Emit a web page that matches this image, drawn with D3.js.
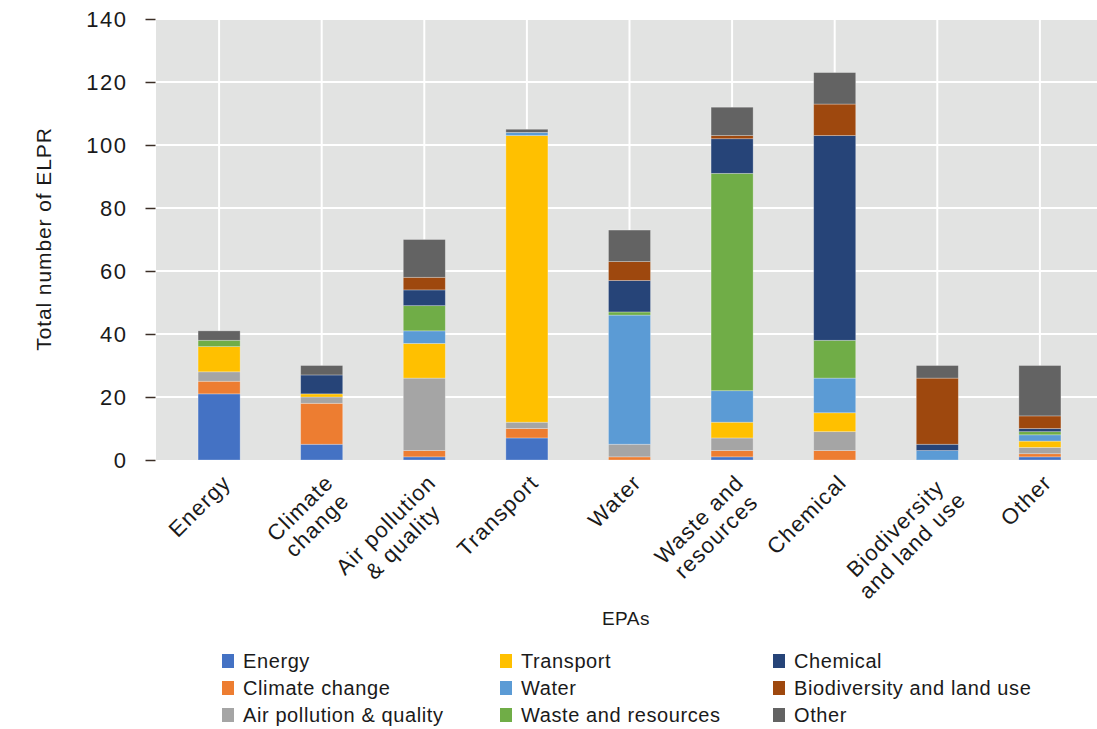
<!DOCTYPE html>
<html>
<head>
<meta charset="utf-8">
<script src="https://cdn.jsdelivr.net/npm/d3@7"></script>
<style>
  html, body { margin: 0; padding: 0; background: #ffffff; }
  svg { display: block; }
  text { font-family: "Liberation Sans", Arial, sans-serif; fill: #1a1a1a; }
</style>
</head>
<body>
<svg id="chart" width="1097" height="729"></svg>
<script>
// EPA categories along the x axis (line breaks marked with "\n")
const categories = [
  "Energy", "Climate\nchange", "Air pollution\n& quality", "Transport", "Water",
  "Waste and\nresources", "Chemical", "Biodiversity\nand land use", "Other"
];

// Stacked series, bottom to top
const seriesNames = [
  "Energy", "Climate change", "Air pollution & quality", "Transport", "Water",
  "Waste and resources", "Chemical", "Biodiversity and land use", "Other"
];
const energy     = [21, 5, 1, 7, 0, 1, 0, 0, 1];
const climate    = [4, 13, 2, 3, 1, 2, 3, 0, 1];
const airQuality = [3, 2, 23, 2, 4, 4, 6, 0, 2];
const transport  = [8, 1, 11, 91, 0, 5, 6, 0, 2];
const water      = [0, 0, 4, 1, 41, 10, 11, 3, 2];
const waste      = [2, 0, 8, 0, 1, 69, 12, 0, 1];
const chemical   = [0, 6, 5, 0, 10, 11, 65, 2, 1];
const biodiv     = [0, 0, 4, 0, 6, 1, 10, 21, 4];
const other      = [3, 3, 12, 1, 10, 9, 10, 4, 16];

const yTicks = [0, 20, 40, 60, 80, 100, 120, 140];

const colors = ["#4472C4", "#ED7D31", "#A5A5A5", "#FFC000", "#5B9BD5",
                "#70AD47", "#264478", "#9E480E", "#636363"];

const seriesValues = [energy, climate, airQuality, transport, water, waste, chemical, biodiv, other];

// Rows for d3.stack
const rows = categories.map((c, i) => {
  const r = { cat: c };
  seriesNames.forEach((s, j) => { r[s] = seriesValues[j][i]; });
  return r;
});

const svg = d3.select("#chart");
const W = 1097;
const plot = { left: 156, right: 1103, top: 19, bottom: 460 };

const x = d3.scaleBand()
  .domain(categories)
  .range([plot.left, plot.right])
  .paddingInner(0.59)
  .paddingOuter(0.41);

const y = d3.scaleLinear().domain([0, 140]).range([plot.bottom, plot.top]);

// Plot background
svg.append("rect")
  .attr("x", plot.left).attr("y", plot.top)
  .attr("width", W - plot.left).attr("height", plot.bottom - plot.top)
  .attr("fill", "#E2E3E2");

// Horizontal gridlines
svg.append("g").selectAll("line").data(yTicks.filter(d => d > 0)).join("line")
  .attr("x1", plot.left).attr("x2", W)
  .attr("y1", d => y(d)).attr("y2", d => y(d))
  .attr("stroke", "#ffffff").attr("stroke-width", 2);

// Vertical gridlines through category centres
svg.append("g").selectAll("line").data(categories).join("line")
  .attr("x1", d => x(d) + x.bandwidth() / 2).attr("x2", d => x(d) + x.bandwidth() / 2)
  .attr("y1", plot.top).attr("y2", plot.bottom)
  .attr("stroke", "#ffffff").attr("stroke-width", 2);

// Stacked bars
const stacked = d3.stack().keys(seriesNames)(rows);
svg.append("g").selectAll("g").data(stacked).join("g")
  .attr("fill", (d, i) => colors[i])
  .selectAll("rect").data(d => d).join("rect")
  .attr("x", d => x(d.data.cat))
  .attr("width", x.bandwidth())
  .attr("y", d => y(d[1]))
  .attr("height", d => y(d[0]) - y(d[1]))
  .attr("stroke", "rgba(255,255,255,0.35)")
  .attr("stroke-width", 0.8);

// Y axis
const yAxis = d3.axisLeft(y).tickValues(yTicks).tickSize(10).tickPadding(18);
const yg = svg.append("g").attr("transform", `translate(${plot.left - 0.5},0)`).call(yAxis);
yg.select(".domain").remove();
yg.selectAll(".tick line").attr("stroke", "#3b2e26").attr("stroke-width", 1.5);
yg.selectAll(".tick text")
  .style("font-family", "'Liberation Sans', Arial, sans-serif")
  .style("font-size", "22px").style("letter-spacing", "1.5px").attr("fill", "#1a1a1a");

// Y axis title
svg.append("text")
  .attr("transform", `translate(51,239) rotate(-90)`)
  .attr("text-anchor", "middle")
  .style("font-size", "21px")
  .style("letter-spacing", "0.9px")
  .text("Total number of ELPR");

// X category labels, rotated -45°, lines centred within each block
const xl = svg.append("g");
const lineH = 24;
categories.forEach(c => {
  const lines = c.split("\n");
  const g = xl.append("g")
    .attr("transform", `translate(${x(c) + x.bandwidth() / 2 + 1},${plot.bottom + 12}) rotate(-45)`);
  const texts = lines.map((ln, i) => g.append("text")
    .attr("y", 17 + i * lineH)
    .style("font-size", "22px")
    .style("letter-spacing", "1.2px")
    .text(ln));
  const widths = texts.map(t => t.node().getComputedTextLength());
  const maxW = d3.max(widths);
  texts.forEach(t => t.attr("x", -maxW / 2).attr("text-anchor", "middle"));
});

// X axis title
svg.append("text")
  .attr("x", 626).attr("y", 625)
  .attr("text-anchor", "middle")
  .style("font-size", "19px")
  .style("letter-spacing", "0.5px")
  .text("EPAs");

// Legend, three columns filled down
const legendCols = [222, 500, 773];
const legendRows = [661, 688, 715];
const lg = svg.append("g");
seriesNames.forEach((s, i) => {
  const col = Math.floor(i / 3), row = i % 3;
  const g = lg.append("g").attr("transform", `translate(${legendCols[col]},${legendRows[row]})`);
  g.append("rect").attr("x", 0).attr("y", -7).attr("width", 12).attr("height", 14).attr("fill", colors[i]);
  g.append("text").attr("x", 21).attr("y", 0).attr("dy", "0.35em")
    .style("font-size", "20px").style("letter-spacing", "0.6px").text(s);
});
</script>
</body>
</html>
